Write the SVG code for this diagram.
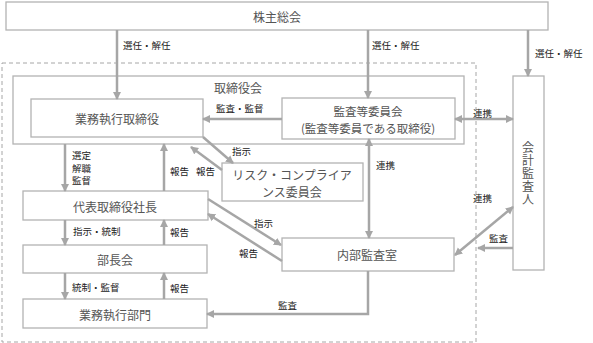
<svg xmlns="http://www.w3.org/2000/svg" width="593" height="343" viewBox="0 0 593 343">
<style>
.box{fill:#fff;stroke:#b3b3b3;stroke-width:1.3}
.frame{fill:none;stroke:#b3b3b3;stroke-width:1.3}
.dash{fill:none;stroke:#a6a6a6;stroke-width:1;stroke-dasharray:4,3}
.bt{font-family:"Noto Sans CJK JP","Noto Sans",sans-serif;font-size:12px;fill:#555;text-anchor:middle;dominant-baseline:central}
.vt{font-family:"Noto Sans CJK JP","Noto Sans",sans-serif;font-size:12px;fill:#555;text-anchor:middle;writing-mode:vertical-rl;letter-spacing:1px}
.lb{font-family:"Noto Sans CJK JP","Noto Sans",sans-serif;font-size:9.5px;fill:#222;dominant-baseline:central}
.ar{fill:none;stroke:#a6a6a6;stroke-width:2.5;marker-end:url(#ah)}
.ar2{fill:none;stroke:#a6a6a6;stroke-width:2.5;marker-end:url(#ah);marker-start:url(#ah)}
</style>
<defs>
<marker id="ah" markerUnits="userSpaceOnUse" markerWidth="9" markerHeight="9" refX="7" refY="4.5" orient="auto-start-reverse">
<path d="M0,0.5 L8,4.5 L0,8.5 z" fill="#a6a6a6"/>
</marker>
</defs>
<rect class="dash" x="2" y="63" width="474" height="279"/>
<g id="shareholders"><rect class="box" x="6" y="2" width="542" height="28"/><text class="bt" x="277" y="16">株主総会</text></g>
<g id="board"><rect class="frame" x="13" y="76" width="451" height="68"/><text class="bt" x="238" y="87">取締役会</text></g>
<g id="exec-directors"><rect class="box" x="31" y="99" width="172" height="38"/><text class="bt" x="117" y="118">業務執行取締役</text></g>
<g id="audit-committee"><rect class="box" x="282" y="98" width="173" height="41"/><text class="bt" x="368" y="110.5" style="font-size:11.5px"><tspan x="368" y="110.5">監査等委員会</tspan><tspan x="368" y="127.5">(監査等委員である取締役)</tspan></text></g>
<g id="auditor"><rect class="box" x="513" y="76" width="31" height="194"/><text class="vt" x="528" y="174">会計監査人</text></g>
<g id="risk-committee"><rect class="box" x="222" y="163" width="141" height="38"/><text class="bt" x="292" y="174"><tspan x="292" y="174">リスク・コンプライア</tspan><tspan x="292" y="191">ンス委員会</tspan></text></g>
<g id="president"><rect class="box" x="23" y="191" width="185" height="29"/><text class="bt" x="115" y="206">代表取締役社長</text></g>
<g id="managers"><rect class="box" x="23" y="245" width="184" height="28"/><text class="bt" x="115" y="259">部長会</text></g>
<g id="exec-division"><rect class="box" x="23" y="299" width="184" height="29"/><text class="bt" x="115" y="314">業務執行部門</text></g>
<g id="internal-audit"><rect class="box" x="282" y="238" width="172" height="33"/><text class="bt" x="367" y="254">内部監査室</text></g>
<g id="connectors">
<path class="ar" d="M117,30 V99"/>
<path class="ar" d="M368,30 V98"/>
<path class="ar" d="M528,30 V76"/>
<path class="ar" d="M282,119 H203"/>
<path class="ar2" d="M455,119 H513"/>
<path class="ar2" d="M369,139 V238"/>
<path class="ar2" d="M513,207 L455,255"/>
<path class="ar" d="M513,248 H478"/>
<path class="ar" d="M368,271 V314 H207"/>
<path class="ar" d="M65,144 V191"/>
<path class="ar" d="M164,191 V144"/>
<path class="ar" d="M203,137 L233,163"/>
<path class="ar" d="M222,170 L191,147"/>
<path class="ar" d="M208,199 L281,245"/>
<path class="ar" d="M282,261 L208,214"/>
<path class="ar" d="M65,220 V245"/>
<path class="ar" d="M164,245 V220"/>
<path class="ar" d="M65,273 V299"/>
<path class="ar" d="M164,299 V273"/>
</g>
<g id="labels">
<text class="lb" x="123" y="45">選任・解任</text>
<text class="lb" x="372" y="45">選任・解任</text>
<text class="lb" x="535" y="53">選任・解任</text>
<text class="lb" x="216" y="108">監査・監督</text>
<text class="lb" x="473" y="113">連携</text>
<text class="lb" x="376" y="165">連携</text>
<text class="lb" x="473" y="198">連携</text>
<text class="lb" x="489" y="238">監査</text>
<text class="lb" x="278" y="305">監査</text>
<text class="lb" x="72" y="155"><tspan x="72" y="155">選定</tspan><tspan x="72" y="167.5">解職</tspan><tspan x="72" y="180">監督</tspan></text>
<text class="lb" x="170" y="171">報告</text>
<text class="lb" x="196" y="171">報告</text>
<text class="lb" x="232" y="151">指示</text>
<text class="lb" x="254" y="223">指示</text>
<text class="lb" x="239" y="253">報告</text>
<text class="lb" x="73" y="231">指示・統制</text>
<text class="lb" x="170" y="232">報告</text>
<text class="lb" x="72" y="287">統制・監督</text>
<text class="lb" x="170" y="288">報告</text>
</g>
</svg>
